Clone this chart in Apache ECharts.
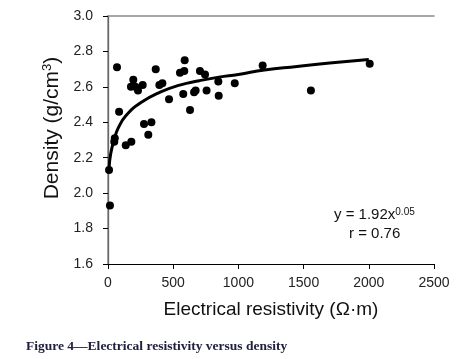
<!DOCTYPE html>
<html>
<head>
<meta charset="utf-8">
<script src="https://cdn.jsdelivr.net/npm/echarts@6/dist/echarts.min.js"></script>
<style>
  html, body { margin: 0; padding: 0; background: #fff; }
  #chart { width: 460px; height: 359px; }
</style>
</head>
<body>
<div id="chart"></div>
<script>
// measured points: resistivity (ohm.m) vs density (g/cm3)
var resistivity = [8, 15, 48, 52, 69, 85, 136, 179, 176, 194, 210, 230, 266, 276, 309, 333, 366, 394, 417, 468,
  552, 585, 588, 577, 629, 660, 672, 705, 744, 756, 846, 849, 972, 1186, 1556, 2007];
var density = [2.13, 1.93, 2.29, 2.31, 2.71, 2.46, 2.27, 2.29, 2.60, 2.64, 2.60, 2.58, 2.61, 2.39, 2.33, 2.40, 2.70, 2.61, 2.62, 2.53,
  2.68, 2.69, 2.75, 2.56, 2.47, 2.57, 2.58, 2.69, 2.67, 2.58, 2.63, 2.55, 2.62, 2.72, 2.58, 2.73];

// trend line
var fitX = [8, 20, 50, 80, 140, 250, 400, 550, 700, 850, 1000, 1200, 1450, 1700, 2000];
var fitY = [2.14, 2.22, 2.31, 2.37, 2.44, 2.51, 2.57, 2.61, 2.635, 2.655, 2.67, 2.695, 2.715, 2.735, 2.755];

var xTicks = [0, 500, 1000, 1500, 2000, 2500];
var yTicks = [1.6, 1.8, 2.0, 2.2, 2.4, 2.6, 2.8, 3.0];

var points = resistivity.map(function (x, i) { return [x, density[i]]; });
var fitLine = fitX.map(function (x, i) { return [x, fitY[i]]; });

var font = "'Liberation Sans', Arial, sans-serif";

// grey frame on top / right, drawn as bare axes
var frameAxis = {
  type: "value",
  axisLine: { show: true, lineStyle: { color: "#8a8a8a", width: 1.5 } },
  axisTick: { show: false },
  axisLabel: { show: false },
  splitLine: { show: false },
};

var myChart = echarts.init(document.getElementById("chart"));
var option = {
  animation: false,
  backgroundColor: "#fff",
  title: {
    text: "Figure 4\u2014Electrical resistivity versus density",
    left: 21,
    top: 335,
    textStyle: {
      fontFamily: "'Liberation Serif', 'Times New Roman', serif",
      fontWeight: "bold",
      fontSize: 13.5,
      color: "#20203f",
    },
  },
  grid: {
    left: 108,
    right: 26,
    top: 16,
    bottom: 95,
  },
  xAxis: [
    {
      type: "value",
      min: xTicks[0],
      max: xTicks[xTicks.length - 1],
      interval: 500,
      name: "Electrical resistivity (\u03A9\u00B7m)",
      nameLocation: "middle",
      nameGap: 36,
      nameTextStyle: { fontFamily: font, fontSize: 19, color: "#111" },
      axisLine: { lineStyle: { color: "#000", width: 1.2 } },
      axisTick: { length: 5, lineStyle: { color: "#000" } },
      axisLabel: {
        fontFamily: font,
        fontSize: 14,
        color: "#222",
        margin: 12,
        formatter: function (v) { return String(v); },
      },
      splitLine: { show: false },
    },
    Object.assign({ position: "top", min: 0, max: 2500 }, frameAxis),
  ],
  yAxis: [
    {
      type: "value",
      min: yTicks[0],
      max: yTicks[yTicks.length - 1],
      interval: 0.2,
      name: "{a|Density (g/cm}{s|3}{a|)}",
      nameLocation: "middle",
      nameGap: 38,
      nameTextStyle: {
        padding: [0, 0, 0, 24],
        rich: {
          a: { fontFamily: font, fontSize: 21, color: "#111" },
          s: { fontFamily: font, fontSize: 13, color: "#111", verticalAlign: "top", padding: [0, 0, 10, 0] },
        },
      },
      axisLine: { show: true, lineStyle: { color: "#000", width: 1.2 } },
      axisTick: { show: true, length: 5, lineStyle: { color: "#000" } },
      axisLabel: {
        fontFamily: font,
        fontSize: 14,
        color: "#222",
        margin: 15,
        formatter: function (v) { return v.toFixed(1); },
      },
      splitLine: { show: false },
    },
    Object.assign({ position: "right", min: 1.6, max: 3.0 }, frameAxis),
  ],
  graphic: [
    {
      type: "text",
      left: 334,
      top: 207,
      style: {
        text: "{a|y = 1.92x}{s|0.05}",
        rich: {
          a: { fontFamily: font, fontSize: 15, fill: "#111" },
          s: { fontFamily: font, fontSize: 10, fill: "#111", verticalAlign: "top", padding: [0, 0, 6, 0] },
        },
      },
    },
    {
      type: "text",
      left: 349,
      top: 226,
      style: { text: "r = 0.76", fontFamily: font, fontSize: 15, fill: "#111" },
    },
  ],
  series: [
    {
      type: "line",
      data: fitLine,
      smooth: true,
      showSymbol: false,
      lineStyle: { color: "#000", width: 3 },
      z: 2,
    },
    {
      type: "scatter",
      data: points,
      symbol: "circle",
      symbolSize: 8,
      itemStyle: { color: "#000", opacity: 1 },
      z: 3,
    },
  ],
};
myChart.setOption(option);
</script>
</body>
</html>
